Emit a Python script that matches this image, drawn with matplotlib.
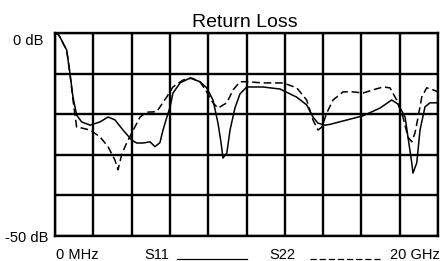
import matplotlib
matplotlib.use('Agg')
import matplotlib.pyplot as plt
from matplotlib.lines import Line2D

plt.rcParams['font.family'] = ['Liberation Sans', 'DejaVu Sans']

# S11 (solid), frequency in GHz, return loss in dB
s11_f = [0, 0.16, 0.26, 0.42, 0.61, 0.78, 0.94, 1.13, 1.39, 1.83, 2.35, 2.77, 3.13,
         3.55, 4.01, 4.27, 4.60, 4.96, 5.22, 5.48, 5.64, 5.83, 6.01, 6.16, 6.53,
         7.05, 7.57, 7.92, 8.25, 8.51, 8.67, 8.77, 8.97, 9.14, 9.40, 9.66, 10.01,
         10.86, 11.75, 12.62, 13.14, 13.47, 13.73, 14.10, 14.36, 16.08, 16.97,
         17.58, 17.91, 18.28, 18.43, 18.63, 18.69, 18.89, 19.06, 19.32, 19.58, 20.0]
s11_db = [0, -0.3, -1, -2.5, -4.2, -9.9, -15.8, -20.2, -21.9, -22.7, -21.9, -20.7, -21.4,
          -23.9, -26.4, -27.1, -27.1, -26.8, -28, -27, -23.9, -20.9, -18.2, -14.8, -12.3,
          -11.1, -12, -13.5, -16.5, -22.2, -27, -30.8, -29.6, -23.9, -18.4, -15, -13.3,
          -13.3, -13.8, -15.8, -17.7, -20.7, -22.2, -22.7, -22.5, -20.4, -18.5,
          -16.5, -17.5, -20.7, -25.6, -32, -34.5, -32, -23.9, -18.2, -17.2, -17.2]

# S22 (dashed)
s22_f = [0, 0.16, 0.26, 0.42, 0.61, 0.78, 0.94, 1.13, 1.39, 1.83, 2.35, 2.77, 3.13,
         3.29, 3.48, 3.74, 4.01, 4.44, 4.79, 5.31, 5.83, 6.16, 6.68, 7.14, 7.57,
         7.92, 8.25, 8.51, 8.97, 9.30, 9.66, 10.01, 10.86, 11.91, 12.62, 13.14,
         13.47, 13.73, 13.93, 14.19, 14.52, 15.04, 15.56, 16.08, 16.61, 17.13,
         17.49, 17.84, 18.17, 18.43, 18.63, 18.80, 18.96, 19.15, 19.41, 19.74, 20.0]
s22_db = [0, -0.3, -1, -2.5, -4.2, -10, -16.5, -23.2, -23.4, -23.9, -25.6, -28, -31.3,
          -33.7, -30, -27.1, -24.6, -20.7, -19.5, -19.4, -15.8, -13.3, -11.6, -11.1, -12,
          -14.5, -17.2, -18.5, -17.2, -14, -12, -12, -12.3, -12.3, -13.5, -16.5,
          -21.4, -23.9, -23.2, -19.7, -16.5, -14.5, -14.5, -14.8, -14, -13.3,
          -13.5, -16.5, -20.7, -25.6, -26.8, -24.6, -20.7, -15.8, -13.5, -14, -14.5]

fig = plt.figure(figsize=(4.4, 2.61), dpi=100)
ax = fig.add_axes([0.125, 0.0958, 0.8705, 0.7778])

ax.plot(s11_f, s11_db, color='black', lw=1.1)
ax.plot(s22_f, s22_db, color='black', lw=1.1, dashes=(5, 2.5))

ax.set_xlim(0, 20)
ax.set_ylim(-50, 0)
ax.set_xticks([i * 2 for i in range(11)])
ax.set_yticks([-50, -40, -30, -20, -10, 0])
ax.grid(True, color='black', lw=1.7)
ax.tick_params(length=0, labelbottom=False, labelleft=False)
for sp in ax.spines.values():
    sp.set_linewidth(1.7)

fig.text(0.557, 0.8966, 'Return Loss', ha='center', va='baseline', fontsize=14)
fig.text(0.098, 0.8276, '0 dB', ha='right', va='baseline', fontsize=10.5)
fig.text(0.109, 0.0728, '-50 dB', ha='right', va='baseline', fontsize=10.5)

yb = 0.008
fig.text(0.128, yb, '0 MHz', ha='left', va='baseline', fontsize=10.5)
fig.text(0.327, yb, 'S11', ha='left', va='baseline', fontsize=10.5)
fig.add_artist(Line2D([0.402, 0.561], [yb, yb], color='black', lw=0.9))
fig.text(0.612, yb, 'S22', ha='left', va='baseline', fontsize=10.5)
fig.add_artist(Line2D([0.705, 0.864], [yb, yb], color='black', lw=0.9,
                      dashes=(5, 2.3)))
fig.text(1.0, yb, '20 GHz', ha='right', va='baseline', fontsize=10.5)

fig.savefig('out.png', dpi=100)
